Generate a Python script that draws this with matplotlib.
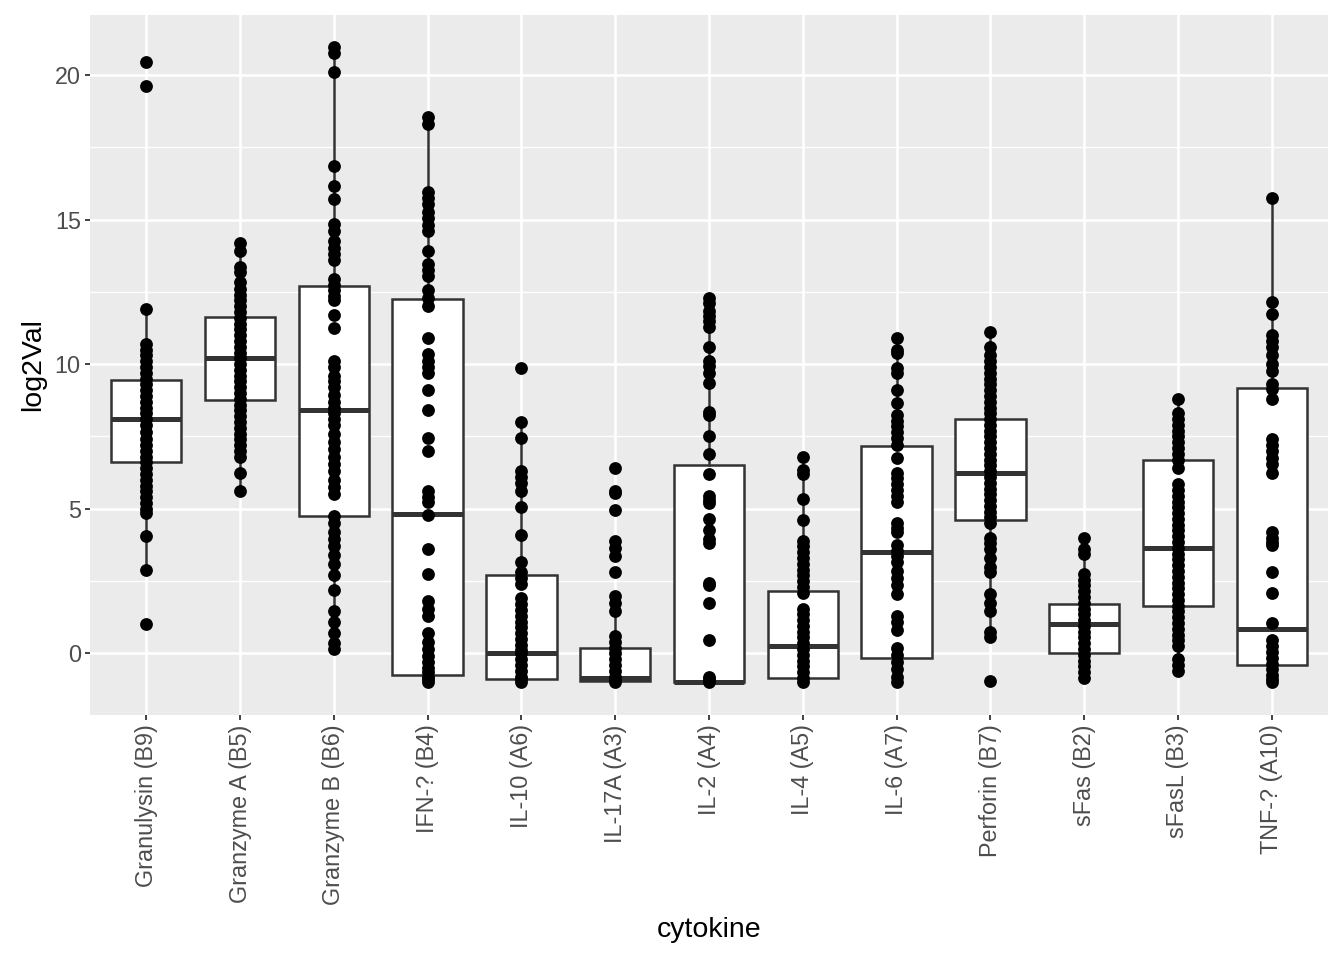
import numpy as np
import matplotlib
matplotlib.use("Agg")
import matplotlib.pyplot as plt
from matplotlib.ticker import MultipleLocator

plt.rcParams['font.family'] = ['Liberation Sans', 'DejaVu Sans']

cytokines = ["Granulysin (B9)", "Granzyme A (B5)", "Granzyme B (B6)", "IFN-? (B4)",
             "IL-10 (A6)", "IL-17A (A3)", "IL-2 (A4)", "IL-4 (A5)", "IL-6 (A7)",
             "Perforin (B7)", "sFas (B2)", "sFasL (B3)", "TNF-? (A10)"]

granulysin = [20.45, 19.6, 11.9, 10.7, 10.5, 10.3, 10.1, 9.9, 9.7, 9.5, 9.3, 9.1, 8.9, 8.7, 8.5,
              8.3, 8.1, 7.9, 7.65, 7.4, 7.2, 7.0, 6.8, 6.6, 6.4, 6.2, 6.0, 5.8, 5.6, 5.4, 5.2,
              5.0, 4.85, 4.05, 2.9, 1.0]
granzyme_a = [14.2, 13.9, 13.35, 13.2, 12.85, 12.6, 12.4, 12.2, 12.0, 11.8, 11.6, 11.4, 11.2,
              11.0, 10.8, 10.6, 10.4, 10.2, 10.0, 9.8, 9.6, 9.4, 9.2, 9.0, 8.8, 8.6, 8.4, 8.2,
              8.0, 7.8, 7.6, 7.4, 7.2, 7.0, 6.8, 6.25, 5.6]
granzyme_b = [20.95, 20.75, 20.1, 16.85, 16.15, 15.7, 14.85, 14.6, 14.25, 14.0, 13.8, 13.6,
              12.95, 12.75, 12.55, 12.35, 12.2, 11.7, 11.25, 10.1, 9.9, 9.6, 9.4, 9.2, 8.95,
              8.7, 8.5, 8.3, 8.1, 7.9, 7.6, 7.3, 7.05, 6.8, 6.55, 6.3, 6.0, 5.75, 5.5, 4.75,
              4.5, 4.2, 3.95, 3.7, 3.4, 3.1, 2.7, 2.2, 1.45, 1.1, 0.7, 0.35, 0.15]
ifn = [18.55, 18.3, 15.95, 15.75, 15.55, 15.25, 15.05, 14.8, 14.6, 13.9, 13.45, 13.25, 13.05,
       12.55, 12.3, 12.0, 10.9, 10.35, 10.1, 9.9, 9.7, 9.1, 8.4, 7.45, 7.0, 5.6, 5.4, 5.25,
       4.8, 3.6, 2.75, 1.8, 1.55, 1.3, 0.7, 0.4, 0.15, -0.1, -0.3, -0.5, -0.65, -0.8, -0.9, -1.0]
il10 = [9.85, 8.0, 7.45, 6.3, 6.1, 5.9, 5.6, 5.05, 4.1, 3.15, 2.8, 2.6, 2.4, 1.9, 1.7, 1.5,
        1.3, 1.1, 0.9, 0.7, 0.5, 0.3, 0.1, 0.0, -0.2, -0.4, -0.6, -0.8, -0.9, -1.0]
il17a = [6.4, 5.6, 5.55, 4.95, 3.9, 3.65, 3.35, 2.8, 2.0, 1.75, 1.45, 0.6, 0.4, 0.2, 0.0,
         -0.2, -0.4, -0.6, -0.8, -0.9, -1.0]
il2 = [12.3, 12.1, 11.85, 11.65, 11.5, 11.3, 10.6, 10.1, 9.95, 9.7, 9.35, 8.35, 8.25, 7.5,
       6.9, 6.2, 5.45, 5.3, 5.2, 4.65, 4.25, 3.95, 3.8, 2.45, 2.35, 1.75, 0.45, -0.8, -0.9, -1.0]
il4 = [6.8, 6.35, 6.2, 5.35, 4.6, 3.9, 3.7, 3.5, 3.3, 3.1, 2.9, 2.7, 2.5, 2.3, 2.1, 1.55,
       1.35, 1.15, 0.95, 0.75, 0.55, 0.35, 0.15, -0.05, -0.25, -0.45, -0.65, -0.85, -1.0]
il6 = [10.9, 10.5, 10.4, 9.85, 9.7, 9.1, 8.65, 8.25, 8.05, 7.85, 7.65, 7.45, 7.2, 6.75, 6.25,
       6.05, 5.85, 5.65, 5.45, 5.25, 4.5, 4.35, 4.2, 3.75, 3.55, 3.35, 3.15, 2.85, 2.6, 2.35,
       2.05, 1.3, 1.1, 0.8, 0.2, -0.05, -0.3, -0.55, -0.8, -1.0]
perforin = [11.1, 10.6, 10.3, 10.1, 9.9, 9.7, 9.5, 9.3, 9.1, 8.9, 8.7, 8.5, 8.3, 8.1, 7.9,
            7.7, 7.5, 7.3, 7.1, 6.9, 6.7, 6.5, 6.3, 6.1, 5.9, 5.7, 5.5, 5.3, 5.1, 4.9, 4.7,
            4.5, 4.0, 3.8, 3.6, 3.3, 3.0, 2.8, 2.05, 1.75, 1.45, 0.75, 0.55, -0.95]
sfas = [4.0, 3.6, 3.45, 2.75, 2.55, 2.35, 2.15, 1.95, 1.75, 1.55, 1.35, 1.15, 0.95, 0.75,
        0.55, 0.35, 0.15, -0.05, -0.25, -0.45, -0.65, -0.85]
sfasl = [8.8, 8.3, 8.1, 7.9, 7.7, 7.5, 7.3, 7.1, 6.9, 6.7, 6.4, 5.85, 5.65, 5.45, 5.25, 5.05,
         4.85, 4.65, 4.45, 4.25, 4.05, 3.85, 3.65, 3.45, 3.25, 3.05, 2.85, 2.65, 2.45, 2.25,
         2.05, 1.85, 1.65, 1.45, 1.25, 1.05, 0.85, 0.65, 0.45, 0.25, -0.2, -0.4, -0.6]
tnf = [15.75, 12.15, 11.75, 11.0, 10.8, 10.6, 10.3, 10.0, 9.75, 9.3, 9.15, 8.8, 7.4, 7.2, 7.0,
       6.75, 6.55, 6.25, 4.2, 4.0, 3.85, 3.75, 2.8, 2.1, 1.05, 0.45, 0.25, 0.05, -0.15, -0.35,
       -0.55, -0.75, -0.9, -1.0]

values = [granulysin, granzyme_a, granzyme_b, ifn, il10, il17a, il2, il4, il6,
          perforin, sfas, sfasl, tnf]

# box summaries
q1 = [6.62, 8.77, 4.75, -0.75, -0.88, -0.96, -1.0, -0.84, -0.15, 4.61, 0.02, 1.64, -0.41]
med = [8.11, 10.21, 8.42, 4.81, 0.0, -0.86, -0.98, 0.26, 3.5, 6.22, 1.03, 3.66, 0.84]
q3 = [9.45, 11.63, 12.69, 12.24, 2.72, 0.17, 6.53, 2.17, 7.17, 8.11, 1.71, 6.68, 9.19]
whislo = [2.9, 5.6, 0.15, -1.0, -1.0, -1.0, -1.0, -1.0, -1.0, 0.55, -0.85, -0.6, -1.0]
whishi = [11.9, 14.2, 20.95, 18.55, 8.0, 1.6, 12.3, 6.8, 10.9, 11.1, 4.0, 8.8, 15.75]

stats = []
for i in range(len(cytokines)):
    stats.append(dict(q1=q1[i], med=med[i], q3=q3[i], whislo=whislo[i], whishi=whishi[i],
                      fliers=[]))

fig = plt.figure(figsize=(13.44, 9.6), dpi=100)
ax = fig.add_axes([90 / 1344, 1 - 715 / 960, 1238 / 1344, 700 / 960])
ax.set_facecolor('#EBEBEB')

pos = np.arange(1, len(cytokines) + 1)
ax.bxp(stats, positions=pos, widths=0.75, showcaps=False, showfliers=False,
       patch_artist=True,
       boxprops=dict(facecolor='white', edgecolor='#333333', linewidth=1.8),
       whiskerprops=dict(color='#333333', linewidth=1.8),
       medianprops=dict(color='#333333', linewidth=3.6, solid_capstyle='butt'))

for i, v in enumerate(values):
    ax.scatter(np.full(len(v), pos[i]), v, s=85, color='black', linewidths=0, zorder=4)

ax.set_xlim(0.4, 13.6)
ax.set_ylim(-2.13, 22.07)
ax.set_xticks(pos)
ax.set_xticklabels(cytokines, rotation=90)
ax.set_yticks([0, 5, 10, 15, 20])
ax.yaxis.set_minor_locator(MultipleLocator(2.5))

ax.set_axisbelow(True)
ax.grid(which='major', color='white', linewidth=1.9)
ax.grid(which='minor', axis='y', color='white', linewidth=0.95)
for s in ax.spines.values():
    s.set_visible(False)

ax.tick_params(axis='both', which='major', length=3.6, width=1.3, color='#333333',
               labelcolor='#4D4D4D', labelsize=16.8, pad=3)
ax.tick_params(axis='both', which='minor', length=0)

ax.set_xlabel('cytokine', fontsize=20.5, labelpad=9)
ax.set_ylabel('log2Val', fontsize=20.5, labelpad=6)

fig.savefig('out.png', dpi=100)
